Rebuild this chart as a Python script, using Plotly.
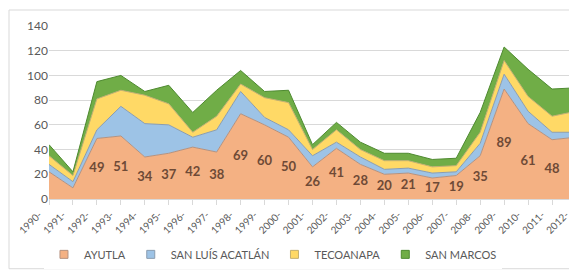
import plotly.graph_objects as go

years = list(range(1990, 2013))
tick_labels = [f"{y}-" for y in years]

ayutla = [22, 9, 49, 51, 34, 37, 42, 38, 69, 60, 50, 26, 41, 28, 20, 21, 17, 19, 35, 89, 61, 48, 50]
san_luis = [6, 5, 7, 24, 27, 23, 8, 18, 18, 6, 6, 9, 5, 6, 4, 4, 4, 3, 10, 12, 10, 6, 4]
tecoanapa = [7, 5, 25, 13, 23, 17, 4, 11, 6, 16, 22, 5, 10, 6, 7, 6, 5, 5, 9, 11, 12, 13, 17]
san_marcos = [9, 3, 14, 12, 3, 15, 16, 21, 11, 5, 10, 4, 6, 6, 6, 6, 6, 6, 16, 11, 22, 22, 19]
# data labels shown on the AYUTLA series (None = no label)
ayutla_labels = [None, None, 49, 51, 34, 37, 42, 38, 69, 60, 50, 26, 41, 28, 20, 21, 17, 19, 35, 89, 61, 48, None]

series = [
    ("AYUTLA", ayutla, "#F4B183", "#B5927F"),
    ("SAN LUÍS ACATLÁN", san_luis, "#9DC3E6", "#8A9DB0"),
    ("TECOANAPA", tecoanapa, "#FFD966", "#C4B070"),
    ("SAN MARCOS", san_marcos, "#70AD47", "#4E8A30"),
]

FONT = "Lato, 'Open Sans', sans-serif"
fig = go.Figure()
for name, vals, fill, line in series:
    fig.add_trace(go.Scatter(
        x=years, y=vals, name=name, mode="lines",
        stackgroup="one", fillcolor=fill,
        line=dict(color=line, width=1),
        hoverinfo="x+y+name", showlegend=False, legendgroup=name,
    ))

# legend entries with small square swatches (Excel style)
for name, vals, fill, line in series:
    fig.add_trace(go.Scatter(
        x=[None], y=[None], name=name, mode="markers", legendgroup=name,
        marker=dict(symbol="square", size=8, color=fill, line=dict(color=line, width=1)),
        showlegend=True,
    ))

lx = [y for y, l in zip(years, ayutla_labels) if l is not None]
ly = [v / 2 for v, l in zip(ayutla, ayutla_labels) if l is not None]
lt = [str(l) for l in ayutla_labels if l is not None]
fig.add_trace(go.Scatter(
    x=lx, y=ly, text=lt, mode="text", showlegend=False,
    textfont=dict(family=FONT, size=13, color="#6E4A36", weight="bold"),
    hoverinfo="skip",
))

fig.update_layout(
    width=577, height=270,
    margin=dict(l=41, r=9, t=17.5, b=74),
    paper_bgcolor="white", plot_bgcolor="white",
    font=dict(family=FONT, color="#595959"),
    showlegend=True,
    legend=dict(
        orientation="h", x=0.425, xanchor="center", y=-0.32, yanchor="middle",
        font=dict(size=11, color="#595959"), itemwidth=30,
        traceorder="normal",
    ),
    xaxis=dict(
        range=[1990, 2012], tickmode="array", tickvals=years, ticktext=tick_labels,
        tickangle=-45, tickfont=dict(size=10, color="#595959"), ticklabelshift=-10,
        showgrid=False, showline=True, linecolor="#D9D9D9", linewidth=1,
        ticks="outside", ticklen=5, tickcolor="#D9D9D9", zeroline=False,
    ),
    yaxis=dict(
        range=[0, 140], dtick=20, tickfont=dict(size=12, color="#595959"),
        showgrid=True, gridcolor="#D9D9D9", gridwidth=1, zeroline=False,
        showline=False, ticks="",
    ),
    shapes=[dict(
        type="rect", xref="paper", yref="paper",
        x0=-0.0759, x1=1.0133, y0=-0.403, y1=1.0924,
        line=dict(color="#D9D9D9", width=1), layer="below",
    )],
)

fig.write_html("out.html")
